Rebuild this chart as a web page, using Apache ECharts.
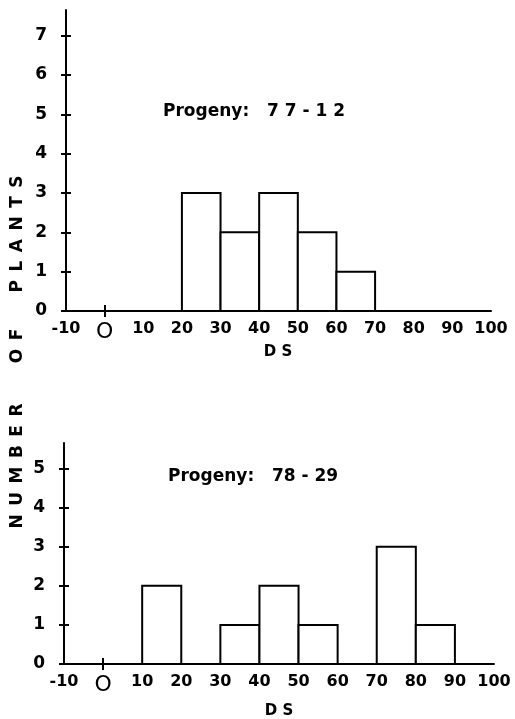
<!DOCTYPE html>
<html>
<head>
<meta charset="utf-8">
<script src="https://cdn.jsdelivr.net/npm/echarts@6/dist/echarts.min.js"></script>
<style>
  html, body { margin: 0; padding: 0; background: #fff; }
  #chart { width: 515px; height: 719px; }
</style>
</head>
<body>
<div id="chart"></div>
<script>
  // histogram bins: start of each 10-unit DS class and number of plants in it
  var binWidth = 10;
  var topBinStart = [20, 30, 40, 50, 60];
  var topCounts = [3, 2, 3, 2, 1];
  var bottomBinStart = [10, 30, 40, 50, 70, 80];
  var bottomCounts = [2, 1, 2, 1, 3, 1];

  var xTickLabels = [-10, 0, 10, 20, 30, 40, 50, 60, 70, 80, 90, 100];
  var topYTicks = [0, 1, 2, 3, 4, 5, 6, 7];
  var bottomYTicks = [0, 1, 2, 3, 4, 5];

  var font = 'DejaVu Sans';

  function bins(starts, counts) {
    return starts.map(function (s, i) { return [s, s + binWidth, counts[i]]; });
  }

  function renderBar(params, api) {
    var p0 = api.coord([api.value(0), api.value(2)]);
    var p1 = api.coord([api.value(1), 0]);
    return {
      type: 'rect',
      shape: { x: p0[0], y: p0[1], width: p1[0] - p0[0], height: p1[1] - p0[1] },
      style: { fill: '#fff', stroke: '#000', lineWidth: 2 }
    };
  }

  // two axes per side: one with the outer tick half and labels, one with the inner half
  function xAxes(grid) {
    var base = {
      type: 'value', gridIndex: grid, min: -10, max: 100, interval: 10,
      position: 'bottom', splitLine: { show: false }
    };
    return [
      Object.assign({}, base, {
        axisLine: { show: true, onZero: false, lineStyle: { color: '#000', width: 2 } },
        axisTick: { show: true, customValues: [0], length: 6, lineStyle: { color: '#000', width: 2 } },
        axisLabel: {
          customValues: xTickLabels, margin: 10, color: '#000',
          fontFamily: font, fontWeight: 'bold', fontSize: 16,
          formatter: function (v) { return v === 0 ? '{big|O}' : String(v); },
          rich: { big: { fontFamily: font, fontSize: 22, fontWeight: 'normal', color: '#000' } }
        }
      }),
      Object.assign({}, base, {
        axisLine: { show: false, onZero: false },
        axisTick: { show: true, inside: true, customValues: [0], length: 6, lineStyle: { color: '#000', width: 2 } },
        axisLabel: { show: false }
      })
    ];
  }

  function yAxes(grid, max, ticks) {
    var base = {
      type: 'value', gridIndex: grid, min: 0, max: max, position: 'left',
      splitLine: { show: false }
    };
    return [
      Object.assign({}, base, {
        axisLine: { show: true, onZero: false, lineStyle: { color: '#000', width: 2 } },
        axisTick: { show: true, customValues: ticks, length: 5, lineStyle: { color: '#000', width: 2 } },
        axisLabel: {
          customValues: ticks, margin: 19, color: '#000',
          fontFamily: font, fontWeight: 'bold', fontSize: 17
        }
      }),
      Object.assign({}, base, {
        axisLine: { show: false, onZero: false },
        axisTick: { show: true, inside: true, customValues: ticks, length: 5, lineStyle: { color: '#000', width: 2 } },
        axisLabel: { show: false }
      })
    ];
  }

  function label(text, x, y, size, align, extra) {
    return Object.assign({
      type: 'text', x: x, y: y,
      style: {
        text: text, fill: '#000', fontFamily: font, fontWeight: 'bold', fontSize: size,
        align: align || 'center', verticalAlign: 'middle'
      }
    }, extra || {});
  }

  var chart = echarts.init(document.getElementById('chart'), null, { renderer: 'canvas' });

  chart.setOption({
    animation: false,
    backgroundColor: '#fff',
    grid: [
      { left: 66, top: 10, width: 425, height: 301 },
      { left: 64, top: 443, width: 430, height: 221 }
    ],
    xAxis: xAxes(0).concat(xAxes(1)),
    yAxis: yAxes(0, 7.65, topYTicks).concat(yAxes(1, 5.65, bottomYTicks)),
    series: [
      {
        type: 'custom', xAxisIndex: 0, yAxisIndex: 0,
        renderItem: renderBar, encode: { x: [0, 1], y: 2 },
        data: bins(topBinStart, topCounts)
      },
      {
        type: 'custom', xAxisIndex: 2, yAxisIndex: 2,
        renderItem: renderBar, encode: { x: [0, 1], y: 2 },
        data: bins(bottomBinStart, bottomCounts)
      }
    ],
    graphic: [
      label('Progeny:   7 7 - 1 2', 163, 112, 17, 'left'),
      label('Progeny:   78 - 29', 168, 477, 17, 'left'),
      label('D S', 278, 352, 15),
      label('D S', 279, 711, 15),
      label('P\u2002L\u2002A\u2002N\u2002T\u2002S', 18, 234, 17, 'center', { rotation: Math.PI / 2 }),
      label('O\u2002F', 18, 346, 17, 'center', { rotation: Math.PI / 2 }),
      label('N\u2002U\u2002M\u2002B\u2002E\u2002R', 18, 466, 17, 'center', { rotation: Math.PI / 2 })
    ]
  });
</script>
</body>
</html>
